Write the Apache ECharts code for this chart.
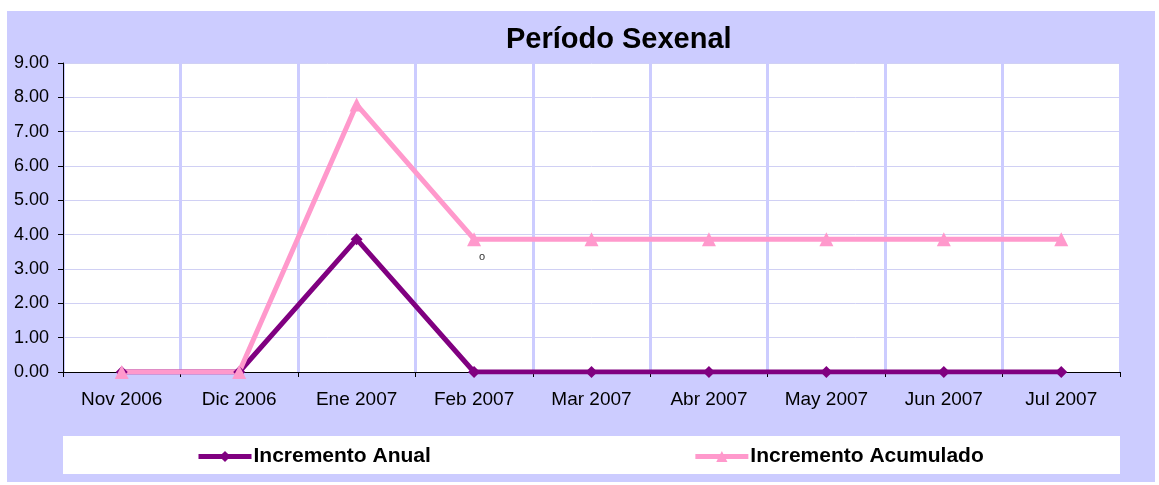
<!DOCTYPE html>
<html>
<head>
    <meta charset="utf-8">
    <script src="https://cdn.jsdelivr.net/npm/echarts@6/dist/echarts.min.js"></script>
    <style>
        html, body { margin: 0; padding: 0; background: #fff; }
        #main { width: 1159px; height: 485px; }
    </style>
</head>
<body>
    <div id="main"></div>
<script type="text/javascript">
    // datos del periodo
    var meses = ['Nov 2006', 'Dic 2006', 'Ene 2007', 'Feb 2007', 'Mar 2007', 'Abr 2007', 'May 2007', 'Jun 2007', 'Jul 2007'];
    var incrementoAnual = [0, 0, 3.87, 0, 0, 0, 0, 0, 0];
    var incrementoAcumulado = [0, 0, 7.79, 3.87, 3.87, 3.87, 3.87, 3.87, 3.87];

    var chart = echarts.init(document.getElementById('main'));

    var option = {
        backgroundColor: '#fff',
        animation: false,
        textStyle: { fontFamily: 'Liberation Sans, Arial' },
        graphic: [
            {   // fondo lavanda
                type: 'rect', z: -10,
                shape: { x: 7, y: 11, width: 1148, height: 471 },
                style: { fill: '#ccccff' }
            },
            {   // caja de leyenda
                type: 'rect', z: -9,
                shape: { x: 63, y: 436, width: 1057, height: 38 },
                style: { fill: '#ffffff' }
            },
            {
                type: 'text', left: 479, top: 251,
                style: { text: 'o', fontSize: 11, fill: '#333', fontFamily: 'Liberation Sans' }
            }
        ],
        title: {
            text: 'Período Sexenal',
            left: 501,
            top: 20,
            textStyle: { fontSize: 29, fontWeight: 'bold', color: '#000', fontFamily: 'Liberation Sans' }
        },
        legend: {
            left: 191,
            top: 441,
            itemWidth: 53,
            itemHeight: 14,
            itemGap: 262,
            lineStyle: { width: 5 },
            textStyle: { fontSize: 21, fontWeight: 'bold', color: '#000', padding: [0, 0, 0, -3] },
            data: ['Incremento Anual', 'Incremento Acumulado']
        },
        grid: {
            left: 63, right: 39, top: 63, bottom: 113,
            show: true, backgroundColor: '#ffffff', borderWidth: 0
        },
        xAxis: {
            type: 'category',
            data: meses,
            boundaryGap: true,
            axisLine: { lineStyle: { color: '#000', width: 1 } },
            axisTick: { show: true, length: 5, lineStyle: { color: '#000' } },
            axisLabel: { fontSize: 19, color: '#000', margin: 18 },
            splitLine: { show: true, lineStyle: { color: '#ccccff', width: 3 } }
        },
        yAxis: {
            type: 'value',
            min: 0, max: 9, interval: 1,
            axisLine: { show: true, lineStyle: { color: '#000', width: 1 } },
            axisTick: { show: true, length: 5, lineStyle: { color: '#000' } },
            axisLabel: { fontSize: 18, color: '#000', margin: 14, formatter: function (v) { return v.toFixed(2); } },
            splitLine: { show: true, lineStyle: { color: '#d0d0f4', width: 1 } }
        },
        series: [
            {
                name: 'Incremento Anual',
                type: 'line',
                data: incrementoAnual,
                symbol: 'diamond',
                symbolSize: 12,
                lineStyle: { color: '#800080', width: 5 },
                itemStyle: { color: '#800080' }
            },
            {
                name: 'Incremento Acumulado',
                type: 'line',
                data: incrementoAcumulado,
                symbol: 'triangle',
                symbolSize: 14,
                lineStyle: { color: '#ff99cc', width: 5 },
                itemStyle: { color: '#ff99cc' }
            }
        ]
    };

    chart.setOption(option);
</script>
</body>
</html>
